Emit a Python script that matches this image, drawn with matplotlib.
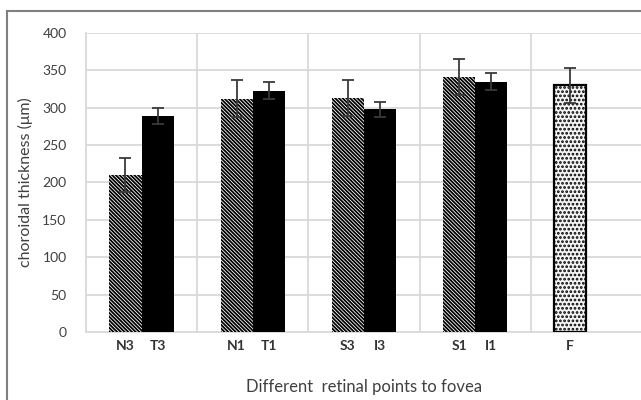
import numpy as np
import matplotlib.pyplot as plt
from matplotlib.lines import Line2D

# Mean choroidal thickness (um) and SD at each retinal point
outer_labels = ['N3', 'N1', 'S3', 'S1']
outer_means = [210, 312, 313, 341]
outer_sd = [23, 25, 24, 24]

inner_labels = ['T3', 'T1', 'I3', 'I1']
inner_means = [289, 323, 298, 335]
inner_sd = [11, 11, 10, 11]

fovea_label = ['F']
fovea_mean = [330]
fovea_sd = [23]

plt.rcParams['font.family'] = ['Lato', 'DejaVu Sans']
plt.rcParams['hatch.linewidth'] = 1.3

fig = plt.figure(figsize=(6.41, 4.0), dpi=100)
ax = fig.add_axes([86 / 641, 68 / 400, 556 / 641, 299 / 400])

width = 0.29
pos = np.arange(len(outer_labels))
x_outer = pos - width / 2
x_inner = pos + width / 2
x_fovea = np.array([len(outer_labels)]) - width / 2

err_style = dict(ecolor='#3a3a3a', elinewidth=1.3, capsize=4, capthick=1.3)

ax.bar(x_outer, outer_means, width, color='white', edgecolor='black',
       linewidth=0, hatch='\\' * 9, yerr=outer_sd, error_kw=err_style, zorder=3)
ax.bar(x_inner, inner_means, width, color='black', edgecolor='black',
       linewidth=0, yerr=inner_sd, error_kw=err_style, zorder=3)
ax.bar(x_fovea, fovea_mean, width, color='#f4f4f4', edgecolor='black',
       linewidth=1.6, hatch='....', yerr=fovea_sd, error_kw=err_style, zorder=3)

# labels sit under each bar
ticks = list(x_outer) + list(x_inner) + list(x_fovea)
labels = outer_labels + inner_labels + fovea_label
ax.set_xticks(ticks)
ax.set_xticklabels(labels, fontsize=10, fontweight='bold', color='#333333')
ax.tick_params(axis='x', length=0, pad=6)

ax.set_xlim(-0.5, 4.5)
ax.set_ylim(0, 400)
ax.set_yticks(range(0, 401, 50))
ax.tick_params(axis='y', length=0, pad=14, labelsize=10, labelcolor='#404040')

# grid: horizontal every 50, vertical between groups
grid_col = '#d9d9d9'
for y in range(50, 401, 50):
    ax.axhline(y, color=grid_col, lw=1.3, zorder=1)
for xv in np.arange(0.5, 4.5, 1.0):
    ax.axvline(xv, color=grid_col, lw=1.3, zorder=1)

for side in ['top', 'right']:
    ax.spines[side].set_visible(False)
ax.spines['left'].set_color(grid_col)
ax.spines['bottom'].set_color(grid_col)
ax.spines['left'].set_linewidth(1.3)
ax.spines['bottom'].set_linewidth(1.3)

ax.set_ylabel('choroidal thickness (\u03bcm)', fontsize=11.5, color='#404040', labelpad=7)
ax.set_xlabel('Different  retinal points to fovea', fontsize=12, color='#404040', labelpad=19)

# chart frame
fig.add_artist(Line2D([7 / 641, 1], [1 - 11 / 400, 1 - 11 / 400], color='#808080', lw=1.5))
fig.add_artist(Line2D([7 / 641, 7 / 641], [0, 1 - 11 / 400], color='#808080', lw=1.5))

plt.savefig('out.png', dpi=100)
